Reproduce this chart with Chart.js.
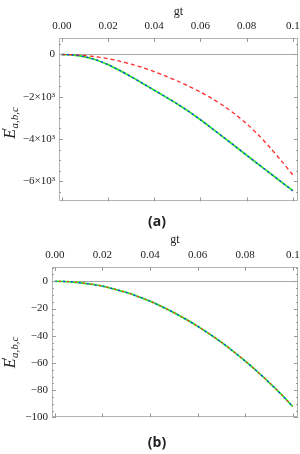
<!DOCTYPE html>
<html>
<head>
<meta charset="utf-8">
<script src="https://cdn.jsdelivr.net/npm/chart.js@4.4.0/dist/chart.umd.min.js"></script>
<style>
  html, body { margin: 0; padding: 0; background: #fff; }
  body { width: 300px; height: 454px; position: relative; overflow: hidden; }
  canvas { position: absolute; left: 0; }
  .panel-label { position: absolute; left: 142px; width: 30px; text-align: center;
                 font: bold 14px "Open Sans", "Liberation Sans", sans-serif; color: #222; }
</style>
</head>
<body>
<canvas id="chartA" width="300" height="212" style="top:0"></canvas>
<div class="panel-label" style="top:211px">(a)</div>
<canvas id="chartB" width="300" height="200" style="top:228px"></canvas>
<div class="panel-label" style="top:432px">(b)</div>
<script>
// gt axis samples
const gt = [0, 0.005, 0.01, 0.015, 0.02, 0.025, 0.03, 0.035, 0.04, 0.045, 0.05,
            0.055, 0.06, 0.065, 0.07, 0.075, 0.08, 0.085, 0.09, 0.095, 0.1];

// panel (a): blue / green (overlapping) and red dashed
const solidA = [0, -25, -110, -260, -480, -750, -1050, -1370, -1690, -2010, -2340,
                -2700, -3090, -3500, -3920, -4340, -4770, -5190, -5610, -6030, -6450];
const redA = [0, -12, -50, -112, -200, -315, -455, -620, -810, -1025, -1255,
              -1505, -1780, -2085, -2430, -2825, -3280, -3800, -4390, -5030, -5700];

// panel (b): all three curves coincide
const curveB = [0, -0.2, -0.9, -2.1, -3.6, -5.7, -8.2, -11.2, -14.6, -18.6, -23,
                -27.8, -33, -38.7, -44.8, -51.5, -58.6, -66.2, -74.2, -82.8, -92];

// ticks
const xTicks = [0, 0.02, 0.04, 0.06, 0.08, 0.1];
const xLabels = ['0.00', '0.02', '0.04', '0.06', '0.08', '0.1'];
const yTicksA = [0, -2000, -4000, -6000];
const yLabelsA = ['0', '\u22122\u00d710\u00b3', '\u22124\u00d710\u00b3', '\u22126\u00d710\u00b3'];
const yMinorA = [500, -500, -1000, -1500, -2500, -3000, -3500, -4500, -5000, -5500, -6500];
const yTicksB = [0, -20, -40, -60, -80, -100];
const yLabelsB = ['0', '\u221220', '\u221240', '\u221260', '\u221280', '\u2212100'];
const yMinorB = [10, 5, -5, -10, -15, -25, -30, -35, -45, -50, -55, -65, -70, -75, -85, -90, -95];

const SERIF = '"Liberation Serif", "DejaVu Serif", serif';
const FRAME = '#b4b4b4';

const pts = vals => gt.map((x, i) => ({ x: x, y: vals[i] }));

// frame box + inward tick marks on all four sides
const framePlugin = {
  id: 'frameTicks',
  afterDatasetsDraw(chart, args, opts) {
    const { ctx, chartArea: a, scales } = chart;
    ctx.save();
    ctx.strokeStyle = FRAME;
    ctx.lineWidth = 1;
    ctx.strokeRect(Math.round(a.left) + 0.5, Math.round(a.top) + 0.5,
                   Math.round(a.right - a.left) - 1, Math.round(a.bottom - a.top) - 1);
    ctx.strokeStyle = '#9a9a9a';
    ctx.beginPath();
    xTicks.forEach(v => {
      const px = Math.round(scales.x.getPixelForValue(v)) + 0.5;
      ctx.moveTo(px, a.top); ctx.lineTo(px, a.top + 4);
      ctx.moveTo(px, a.bottom); ctx.lineTo(px, a.bottom - 4);
    });
    opts.yMajor.forEach(v => {
      const py = Math.round(scales.y.getPixelForValue(v)) + 0.5;
      ctx.moveTo(a.left, py); ctx.lineTo(a.left + 4, py);
      ctx.moveTo(a.right, py); ctx.lineTo(a.right - 4, py);
    });
    opts.yMinor.forEach(v => {
      const py = Math.round(scales.y.getPixelForValue(v)) + 0.5;
      if (py < a.top + 1 || py > a.bottom - 1) return;
      ctx.moveTo(a.left, py); ctx.lineTo(a.left + 2, py);
      ctx.moveTo(a.right, py); ctx.lineTo(a.right - 2, py);
    });
    ctx.stroke();
    ctx.restore();
  }
};

// rotated y-axis title E'_{a,b,c}
const yTitlePlugin = {
  id: 'yTitle',
  afterDraw(chart, args, opts) {
    const { ctx, chartArea: a } = chart;
    const big = 'italic 16px ' + SERIF, small = 'italic 11px ' + SERIF;
    ctx.save();
    ctx.font = big; const wE = ctx.measureText('E').width;
    ctx.font = small; const wS = ctx.measureText('a,b,c').width;
    const total = wE + 1 + wS;
    ctx.translate(opts.x, (a.top + a.bottom) / 2 + opts.dy);
    ctx.rotate(-Math.PI / 2);
    ctx.fillStyle = '#222';
    ctx.textBaseline = 'alphabetic';
    ctx.font = big;
    ctx.fillText('E', -total / 2, 5);
    ctx.font = 'italic 12px ' + SERIF;
    ctx.fillText('\u2032', -total / 2 + wE - 2, 0);
    ctx.font = small;
    ctx.fillText('a,b,c', -total / 2 + wE + 0.5, 8);
    ctx.restore();
  }
};

function line(data, color, width, dash, offset) {
  return {
    data: data, borderColor: color, borderWidth: width,
    borderDash: dash || [], borderDashOffset: offset || 0,
    pointRadius: 0, fill: false, tension: 0.3
  };
}

function makeChart(id, datasets, cfg) {
  return new Chart(document.getElementById(id), {
    type: 'line',
    data: { datasets: datasets },
    options: {
      responsive: false,
      animation: false,
      layout: { padding: { left: 0, right: 2, top: 0, bottom: cfg.padBottom } },
      plugins: {
        legend: { display: false },
        tooltip: { enabled: false },
        frameTicks: { yMajor: cfg.yTicks, yMinor: cfg.yMinor },
        yTitle: { x: 10, dy: cfg.titleDy }
      },
      scales: {
        x: {
          type: 'linear', position: 'top', min: -0.0012, max: 0.1022,
          afterBuildTicks: s => { s.ticks = xTicks.map(v => ({ value: v })); },
          afterFit: s => { s.height = cfg.topH; s.paddingLeft = 0; s.paddingRight = 0; },
          ticks: {
            padding: 5, maxRotation: 0, autoSkip: false, color: '#222',
            font: { family: SERIF, size: 11 },
            callback: v => xLabels[xTicks.indexOf(v)]
          },
          grid: { display: false, drawTicks: false },
          border: { display: false },
          title: {
            display: true, text: 'gt', color: '#222',
            font: { family: SERIF, size: 12 }, padding: { top: 5, bottom: 0 }
          }
        },
        y: {
          type: 'linear', min: cfg.yMin, max: cfg.yMax,
          afterBuildTicks: s => { s.ticks = cfg.yTicks.map(v => ({ value: v })); },
          afterFit: s => { s.width = cfg.leftW; },
          ticks: {
            padding: 4, color: '#222', font: { family: SERIF, size: 11 },
            callback: v => cfg.yLabels[cfg.yTicks.indexOf(v)]
          },
          grid: {
            drawTicks: false, lineWidth: 1,
            color: c => (c.tick && c.tick.value === 0) ? '#a8a8a8' : 'rgba(0,0,0,0)'
          },
          border: { display: false }
        }
      }
    },
    plugins: [framePlugin, yTitlePlugin]
  });
}

makeChart('chartA', [
  line(pts(solidA), '#1f2fff', 1.3, [2, 3], 0),
  line(pts(redA), '#ff2a2a', 1.3, [4, 3], 0),
  line(pts(solidA), '#2ee82e', 1.8)
], {
  topH: 38, leftW: 59, padBottom: 5, yMin: -6950, yMax: 780,
  yTicks: yTicksA, yLabels: yLabelsA, yMinor: yMinorA, titleDy: 3
});

makeChart('chartB', [
  line(pts(curveB), '#1f2fff', 1.3, [2, 6], 0),
  line(pts(curveB), '#ff2a2a', 1.3, [2, 6], 4),
  line(pts(curveB), '#2ee82e', 1.8)
], {
  topH: 39, leftW: 52, padBottom: 4, yMin: -100, yMax: 10.5,
  yTicks: yTicksB, yLabels: yLabelsB, yMinor: yMinorB, titleDy: 10
});
</script>
</body>
</html>
